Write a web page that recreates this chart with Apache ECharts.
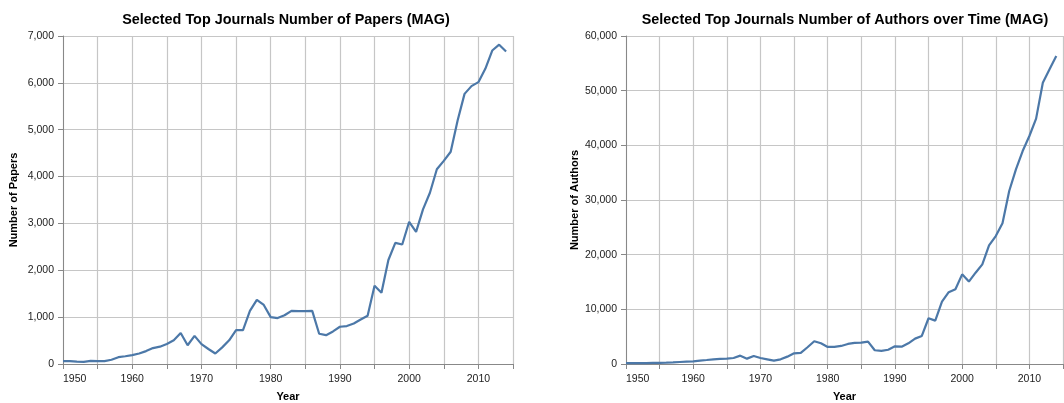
<!DOCTYPE html>
<html>
<head>
<meta charset="utf-8">
<script src="https://cdn.jsdelivr.net/npm/echarts@6/dist/echarts.min.js"></script>
<style>
html,body{margin:0;padding:0;background:#fff;}
#chart{width:1064px;height:403px;}
</style>
</head>
<body>
<div id="chart"></div>
<script>
const years = [];
for (let y = 1950; y <= 2014; y++) years.push(y);

const papers = [
  60, 60, 50, 45, 65, 60, 60, 90, 145, 165,
  190, 225, 275, 340, 370, 425, 505, 660, 400, 600,
  425, 320, 225, 355, 505, 725, 725, 1135, 1370, 1260,
  1000, 980, 1040, 1135, 1130, 1130, 1135, 645, 615, 695,
  795, 810, 865, 950, 1030, 1670, 1520, 2220, 2585, 2550,
  3035, 2820, 3300, 3655, 4155, 4335, 4530, 5195, 5765, 5930,
  6015, 6300, 6690, 6815, 6670
];

const authors = [
  150, 150, 160, 170, 190, 200, 240, 300, 370, 430,
  490, 610, 730, 860, 920, 980, 1100, 1530, 980, 1470,
  1100, 860, 610, 860, 1345, 1960, 2020, 3060, 4160, 3790,
  3120, 3120, 3300, 3670, 3850, 3910, 4100, 2510, 2390, 2600,
  3230, 3170, 3790, 4640, 5130, 8370, 7940, 11400, 13130, 13680,
  16400, 15080, 16700, 18230, 21700, 23400, 25730, 31650, 35610, 38960,
  41710, 44880, 51460, 53900, 56340
];

const titles = [
  "Selected Top Journals Number of Papers (MAG)",
  "Selected Top Journals Number of Authors over Time (MAG)"
];
const yNames = ["Number of Papers", "Number of Authors"];
const xName = "Year";
const xRange = [1950, 2015];
const yRanges = [[0, 7000, 1000], [0, 60000, 10000]];

const FONT = "'Liberation Sans', Arial, sans-serif";
const LINE = '#4c78a8';
const GRID = '#c6c6c6';
const AXIS = '#888';
const LABEL = '#222';

const fmt = v => v.toLocaleString('en-US');

function xAxis(gi) {
  return {
    type: 'value', gridIndex: gi, min: xRange[0], max: xRange[1], interval: 5,
    name: xName, nameLocation: 'middle', nameGap: 27,
    nameTextStyle: {fontFamily: FONT, fontSize: 11, fontWeight: 'bold', color: '#000'},
    axisLine: {show: true, onZero: false, lineStyle: {color: AXIS, width: 1}},
    axisTick: {show: true, length: 5, lineStyle: {color: AXIS}},
    axisLabel: {
      fontFamily: FONT, fontSize: 10.5, color: LABEL, margin: 10,
      alignMinLabel: 'left',
      formatter: v => (v % 10 === 0 && v < xRange[1]) ? String(v) : ''
    },
    splitLine: {show: true, lineStyle: {color: GRID, width: 1.2}}
  };
}
function yAxis(gi, gap) {
  const r = yRanges[gi];
  return {
    type: 'value', gridIndex: gi, min: r[0], max: r[1], interval: r[2],
    name: yNames[gi], nameLocation: 'middle', nameGap: gap, nameRotate: 90,
    nameTextStyle: {fontFamily: FONT, fontSize: 11, fontWeight: 'bold', color: '#000'},
    axisLine: {show: true, lineStyle: {color: AXIS, width: 1}},
    axisTick: {show: true, length: 5, lineStyle: {color: AXIS}},
    axisLabel: {fontFamily: FONT, fontSize: 10.5, color: LABEL, margin: 9, formatter: fmt},
    splitLine: {show: true, lineStyle: {color: GRID, width: 1.2}}
  };
}

const chart = echarts.init(document.getElementById('chart'), null, {renderer: 'canvas'});
chart.setOption({
  animation: false,
  backgroundColor: '#fff',
  title: [
    {text: titles[0], left: 281, top: 8, textAlign: 'center',
     textStyle: {fontFamily: FONT, fontSize: 14.4, fontWeight: 'bold', color: '#000'}},
    {text: titles[1], left: 840, top: 8, textAlign: 'center',
     textStyle: {fontFamily: FONT, fontSize: 14.4, fontWeight: 'bold', color: '#000'}}
  ],
  grid: [
    {left: 63, top: 36, width: 450, height: 328, outerBoundsMode: 'none', containLabel: false},
    {left: 626, top: 36, width: 437, height: 328, outerBoundsMode: 'none', containLabel: false}
  ],
  xAxis: [xAxis(0), xAxis(1)],
  yAxis: [yAxis(0, 44), yAxis(1, 46)],
  series: [
    {type: 'line', xAxisIndex: 0, yAxisIndex: 0, showSymbol: false,
     lineStyle: {color: LINE, width: 2.2}, itemStyle: {color: LINE},
     data: years.map((y, i) => [y, papers[i]])},
    {type: 'line', xAxisIndex: 1, yAxisIndex: 1, showSymbol: false,
     lineStyle: {color: LINE, width: 2.2}, itemStyle: {color: LINE},
     data: years.map((y, i) => [y, authors[i]])}
  ]
});
</script>
</body>
</html>
